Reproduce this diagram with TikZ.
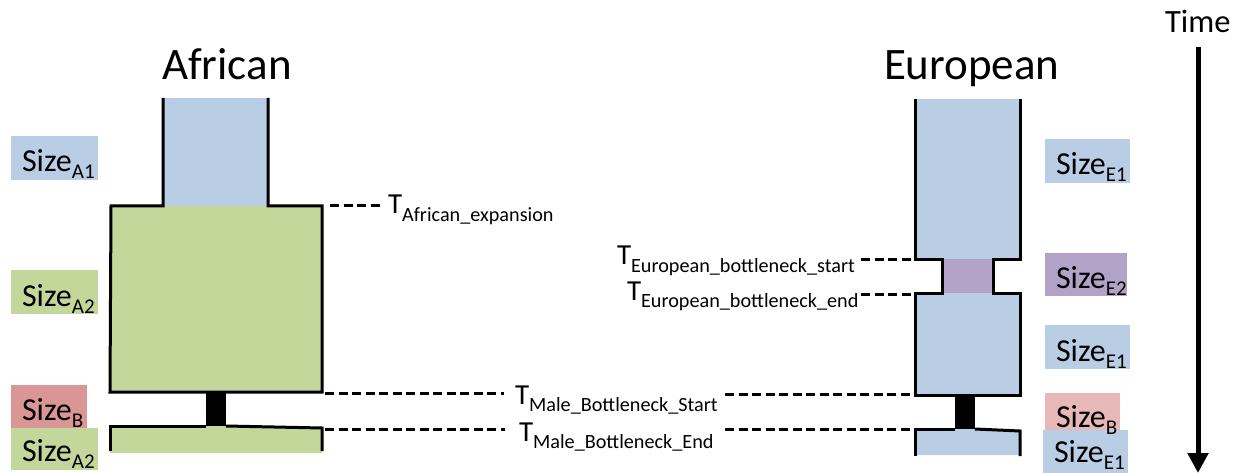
\documentclass[tikz,border=0pt]{standalone}
\usepackage{fontspec}
\setmainfont{Carlito}
\usetikzlibrary{arrows.meta}

\definecolor{blueF}{HTML}{B9CDE5}
\definecolor{greenF}{HTML}{C4D79B}
\definecolor{redF}{HTML}{D99694}
\definecolor{purpleF}{HTML}{B3A2C7}
\definecolor{pinkF}{HTML}{E6B9B8}

% "Size" with a lowered index, and "T" with a lowered index
\newcommand\SzLab[1]{\fontsize{32}{32}\selectfont Size\raisebox{-7pt}{\fontsize{21}{21}\selectfont #1}}
\newcommand\TLab[1]{\fontsize{29}{29}\selectfont T\raisebox{-7.5pt}{\fontsize{20.2}{21}\selectfont #1}}

\tikzset{
  outline/.style={line width=3pt, line join=miter, black},
  epoch/.style={line width=3pt, dash pattern=on 9pt off 4.5pt, black},
  txt/.style={anchor=base west, inner sep=0pt, outer sep=0pt},
  sizebox/.style={anchor=north west, inner sep=0pt, outer sep=0pt, draw=none},
}

\begin{document}
\begin{tikzpicture}[x=1pt, y=-1pt]
\useasboundingbox (0,0) rectangle (1245,473);

% ---------- titles ----------
\node[txt, font=\fontsize{45}{45}\selectfont] (african) at (162,80) {African};
\node[txt, font=\fontsize{45}{45}\selectfont] (european) at (884,80) {European};
\node[txt, font=\fontsize{32.5}{33}\selectfont] (time) at (1165,33) {Time};

% ---------- African population ----------
\fill[blueF] (163,98) rectangle (268,206);
\fill[greenF] (111,206) -- (322,206) -- (322,392) -- (110,392) -- cycle;
\fill[black] (206,392) rectangle (226,426);
\fill[greenF] (110,426) -- (226,426) -- (322,428) -- (322,453) -- (110,453) -- cycle;
\draw[outline] (163,98) -- (163,206) -- (111,206) -- (110,392) -- (322,392)
  -- (322,206) -- (268,206) -- (268,98);
\draw[outline] (110,451) -- (110,426) -- (206,426);
\draw[outline] (226,426) -- (322,428) -- (322,451);

% ---------- European population ----------
\fill[blueF] (915,99) rectangle (1020,259);
\fill[purpleF] (942,259) rectangle (993,293);
\fill[blueF] (915,293) rectangle (1020,395);
\fill[black] (955,395) rectangle (975,429);
\fill[blueF] (915,429) -- (975,429) -- (1020,431) -- (1020,455) -- (915,455) -- cycle;
\draw[outline] (915,99) -- (915,259) -- (942,259) -- (942,293) -- (915,293)
  -- (915,395) -- (1020,395) -- (1020,293) -- (993,293) -- (993,259)
  -- (1020,259) -- (1020,99);
\draw[outline] (915,456) -- (915,429) -- (955,429);
\draw[outline] (975,429) -- (1020,431) -- (1020,456);

% ---------- size boxes ----------
\node[sizebox, fill=blueF,   minimum width=87, minimum height=44] (bA1)  at (11,136) {};
\node[sizebox, fill=greenF,  minimum width=87, minimum height=44] (bA2)  at (11,270) {};
\node[sizebox, fill=redF,    minimum width=76, minimum height=43] (bB)   at (11,385) {};
\node[sizebox, fill=greenF,  minimum width=87, minimum height=42] (bA2b) at (11,428) {};
\node[sizebox, fill=blueF,   minimum width=85, minimum height=44] (bE1)  at (1045,139) {};
\node[sizebox, fill=purpleF, minimum width=82, minimum height=43] (bE2)  at (1045,253) {};
\node[sizebox, fill=blueF,   minimum width=85, minimum height=44] (bE1m) at (1045,325) {};
\node[sizebox, fill=pinkF,   minimum width=75, minimum height=44] (bBr)  at (1045,393) {};
\node[sizebox, fill=blueF,   minimum width=85, minimum height=43] (bE1b) at (1043,430) {};

\node[txt] (sA1)  at (22,172)   {\SzLab{A1}};
\node[txt] (sA2)  at (22,306)   {\SzLab{A2}};
\node[txt] (sB)   at (22,420)   {\SzLab{B}};
\node[txt] (sA2b) at (22,461)   {\SzLab{A2}};
\node[txt] (sE1)  at (1056,175) {\SzLab{E1}};
\node[txt] (sE2)  at (1056,288) {\SzLab{E2}};
\node[txt] (sE1m) at (1056,361) {\SzLab{E1}};
\node[txt] (sBr)  at (1056,427) {\SzLab{B}};
\node[txt] (sE1b) at (1054,462) {\SzLab{E1}};

% ---------- event time labels ----------
\node[txt] (tAfr)  at (388,214) {\TLab{African\_expansion}};
\node[txt] (tMS)   at (515,404) {\TLab{Male\_Bottleneck\_Start}};
\node[txt] (tME)   at (519,441) {\TLab{Male\_Bottleneck\_End}};
\node[txt] (tEbs)  at (617,265) {\TLab{European\_bottleneck\_start}};
\node[txt] (tEbe)  at (627,300) {\TLab{European\_bottleneck\_end}};

% dashed markers
\coordinate (afA) at (330,206);  \coordinate (afB) at (384,206);
\coordinate (msA) at (325,393);  \coordinate (msB) at (504,393);
\coordinate (msC) at (725,394);  \coordinate (msD) at (913,394);
\coordinate (meA) at (325,429);  \coordinate (meB) at (505,429);
\coordinate (meC) at (725,429);  \coordinate (meD) at (913,429);
\coordinate (ebsA) at (861,259); \coordinate (ebsB) at (913,259);
\coordinate (ebeA) at (861,294); \coordinate (ebeB) at (913,294);

\draw[epoch] (afA) -- (afB);
\draw[epoch] (msA) -- (msB);
\draw[epoch] (msC) -- (msD);
\draw[epoch] (meA) -- (meB);
\draw[epoch] (meC) -- (meD);
\draw[epoch] (ebsA) -- (ebsB);
\draw[epoch] (ebeA) -- (ebeB);

% ---------- time arrow ----------
\coordinate (tTop) at (1198,47);
\coordinate (tBot) at (1198,473);
\draw[line width=5pt, -{Triangle[width=20pt,length=20pt]}] (tTop) -- (tBot);
\end{tikzpicture}
\end{document}
